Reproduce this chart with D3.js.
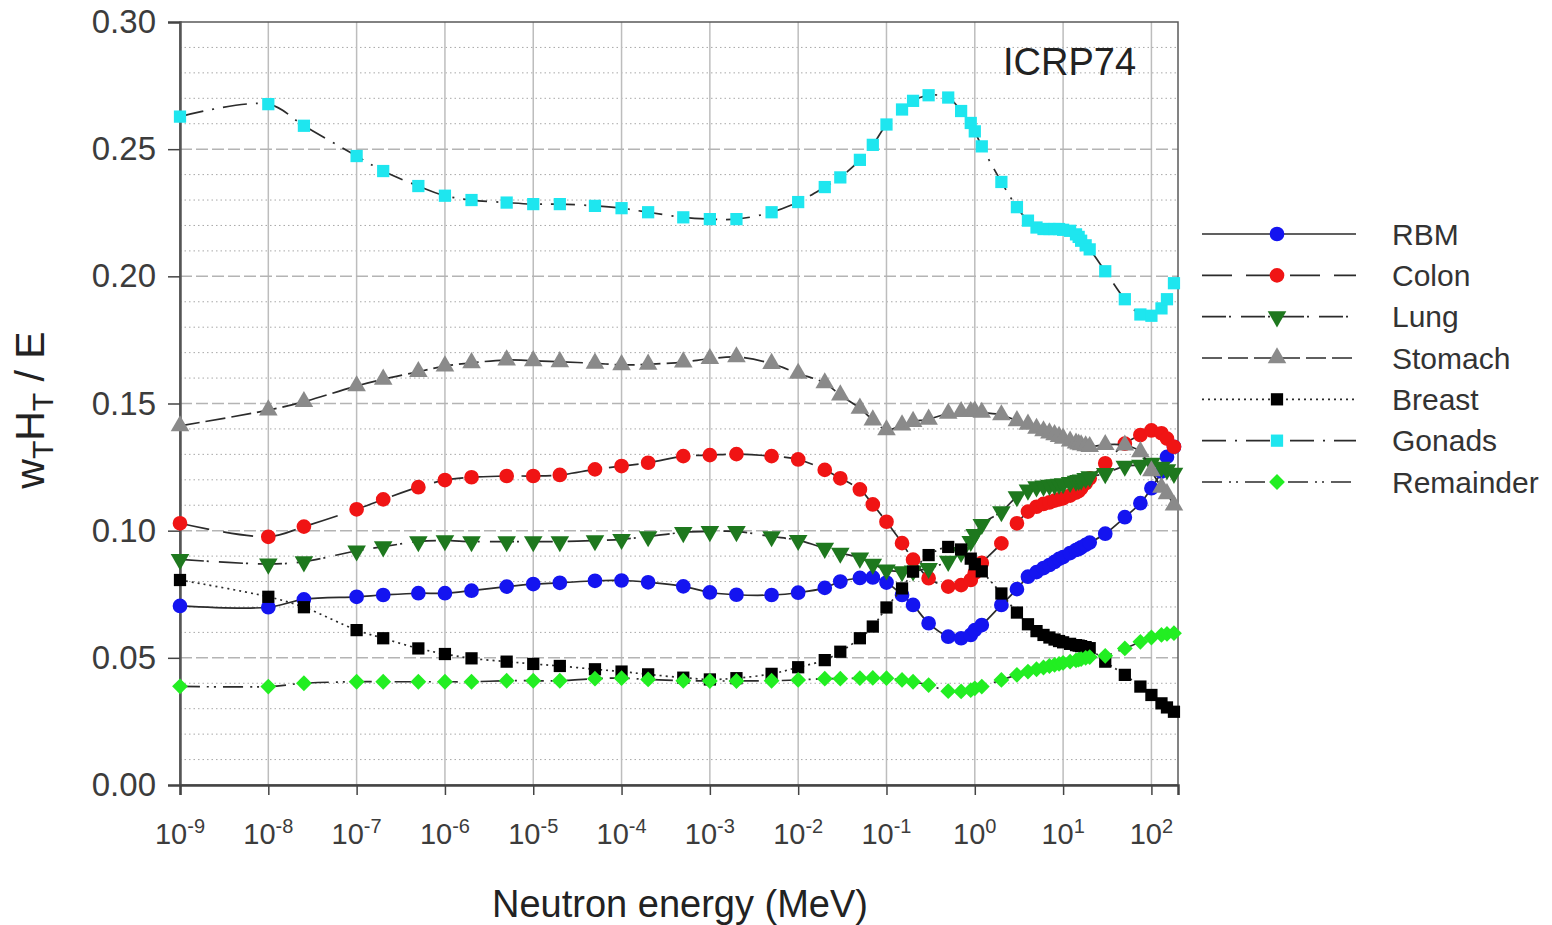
<!DOCTYPE html>
<html>
<head>
<meta charset="utf-8">
<script src="https://cdn.jsdelivr.net/npm/d3@7"></script>
<style>
  body { margin: 0; background: #fff; }
  svg text { font-family: "Liberation Sans", Arial, sans-serif; }
</style>
</head>
<body>
<svg id="chart" width="1552" height="925"></svg>
<script>
// Neutron energies (MeV) of the conversion-coefficient grid
const energies = [1e-9, 1e-8, 2.53e-8, 1e-7, 2e-7, 5e-7, 1e-6, 2e-6, 5e-6, 1e-5, 2e-5, 5e-5,
  1e-4, 2e-4, 5e-4, 1e-3, 2e-3, 5e-3, 1e-2, 2e-2, 3e-2, 5e-2, 7e-2, 0.1, 0.15, 0.2, 0.3, 0.5,
  0.7, 0.9, 1, 1.2, 2, 3, 4, 5, 6, 7, 8, 9, 10, 12, 14, 15, 16, 18, 20, 30, 50, 75, 100, 130, 150, 180];

// w_T H_T / E per organ, one value per energy above
const rbm = [0.0704, 0.0699, 0.0730, 0.0740, 0.0747, 0.0754, 0.0754, 0.0764, 0.0780, 0.0790, 0.0795, 0.0803,
  0.0804, 0.0797, 0.0781, 0.0757, 0.0748, 0.0747, 0.0756, 0.0775, 0.0800, 0.0814, 0.0816, 0.0796, 0.0747, 0.0708, 0.0636, 0.0583,
  0.0577, 0.0590, 0.0609, 0.0629, 0.0708, 0.0770, 0.0819, 0.0837, 0.0853, 0.0865, 0.0877, 0.0889, 0.0896, 0.0912, 0.0924, 0.0928,
  0.0934, 0.0944, 0.0953, 0.0988, 0.1053, 0.1108, 0.1167, 0.1232, 0.1290, 0.1330];

const colon = [0.1029, 0.0976, 0.1016, 0.1084, 0.1123, 0.1171, 0.1199, 0.1210, 0.1215, 0.1215, 0.1219, 0.1241,
  0.1254, 0.1267, 0.1293, 0.1297, 0.1301, 0.1293, 0.1280, 0.1239, 0.1206, 0.1162, 0.1103, 0.1035, 0.0951, 0.0886, 0.0813, 0.0780,
  0.0786, 0.0806, 0.0834, 0.0873, 0.0950, 0.1029, 0.1075, 0.1094, 0.1105, 0.1111, 0.1118, 0.1123, 0.1127, 0.1138, 0.1150, 0.1156,
  0.1167, 0.1186, 0.1206, 0.1265, 0.1342, 0.1376, 0.1394, 0.1383, 0.1362, 0.1330];

const lung = [0.0887, 0.0869, 0.0878, 0.0921, 0.0937, 0.0957, 0.0961, 0.0957, 0.0957, 0.0957, 0.0957, 0.0961,
  0.0966, 0.0977, 0.0993, 0.0997, 0.0997, 0.0977, 0.0962, 0.0931, 0.0912, 0.0893, 0.0868, 0.0846, 0.0839, 0.0842, 0.0852, 0.0880,
  0.0915, 0.0958, 0.0985, 0.1025, 0.1075, 0.1134, 0.1160, 0.1173, 0.1176, 0.1179, 0.1181, 0.1183, 0.1185, 0.1190, 0.1195, 0.1198,
  0.1200, 0.1206, 0.1212, 0.1225, 0.1254, 0.1258, 0.1266, 0.1250, 0.1240, 0.1226];

const stomach = [0.1412, 0.1474, 0.1507, 0.1569, 0.1595, 0.1625, 0.1647, 0.1660, 0.1671, 0.1668, 0.1664, 0.1658,
  0.1652, 0.1654, 0.1663, 0.1676, 0.1683, 0.1657, 0.1618, 0.1581, 0.1533, 0.1481, 0.1435, 0.1396, 0.1415, 0.1429, 0.1438, 0.1461,
  0.1468, 0.1468, 0.1470, 0.1465, 0.1455, 0.1432, 0.1418, 0.1402, 0.1392, 0.1384, 0.1377, 0.1370, 0.1363, 0.1352, 0.1344, 0.1340,
  0.1337, 0.1333, 0.1330, 0.1338, 0.1336, 0.1310, 0.1235, 0.1170, 0.1145, 0.1100];

const breast = [0.0806, 0.0740, 0.0699, 0.0609, 0.0577, 0.0537, 0.0515, 0.0498, 0.0485, 0.0476, 0.0468, 0.0455,
  0.0446, 0.0435, 0.0422, 0.0415, 0.0420, 0.0437, 0.0463, 0.0491, 0.0524, 0.0577, 0.0623, 0.0698, 0.0773, 0.0839, 0.0904, 0.0936,
  0.0926, 0.0890, 0.0868, 0.0840, 0.0753, 0.0678, 0.0632, 0.0605, 0.0590, 0.0580, 0.0572, 0.0566, 0.0561, 0.0555, 0.0550, 0.0548,
  0.0546, 0.0542, 0.0538, 0.0485, 0.0433, 0.0387, 0.0354, 0.0321, 0.0305, 0.0288];

const gonads = [0.2628, 0.2677, 0.2592, 0.2473, 0.2414, 0.2355, 0.2317, 0.2300, 0.2290, 0.2284, 0.2284, 0.2277,
  0.2268, 0.2252, 0.2232, 0.2225, 0.2225, 0.2252, 0.2292, 0.2351, 0.2389, 0.2458, 0.2517, 0.2597, 0.2656, 0.2690, 0.2712, 0.2703,
  0.2650, 0.2603, 0.2570, 0.2511, 0.2371, 0.2272, 0.2219, 0.2192, 0.2186, 0.2186, 0.2186, 0.2186, 0.2183, 0.2179, 0.2165, 0.2155,
  0.2140, 0.2122, 0.2106, 0.2020, 0.1910, 0.1850, 0.1845, 0.1874, 0.1910, 0.1973];

const remainder = [0.0388, 0.0387, 0.0400, 0.0406, 0.0406, 0.0406, 0.0406, 0.0406, 0.0410, 0.0410, 0.0410, 0.0418,
  0.0420, 0.0415, 0.0410, 0.0409, 0.0409, 0.0410, 0.0413, 0.0418, 0.0418, 0.0420, 0.0421, 0.0420, 0.0413, 0.0406, 0.0393, 0.0369,
  0.0368, 0.0373, 0.0380, 0.0387, 0.0413, 0.0433, 0.0446, 0.0455, 0.0462, 0.0468, 0.0472, 0.0476, 0.0480, 0.0485, 0.0490, 0.0493,
  0.0495, 0.0500, 0.0503, 0.0508, 0.0537, 0.0563, 0.0580, 0.0590, 0.0594, 0.0597];

const seriesNames = ["RBM", "Colon", "Lung", "Stomach", "Breast", "Gonads", "Remainder"];
const seriesValues = [rbm, colon, lung, stomach, breast, gonads, remainder];

const yTicks = [0, 0.05, 0.10, 0.15, 0.20, 0.25, 0.30];
const xTickExponents = [-9, -8, -7, -6, -5, -4, -3, -2, -1, 0, 1, 2];

const chartTitle = "ICRP74";
const xTitle = "Neutron energy (MeV)";

// ---- appearance of each series ----
const styles = {
  RBM:       { color: "#1414f0", symbol: "circle",   dash: null },
  Colon:     { color: "#f01414", symbol: "circle",   dash: "30,14" },
  Lung:      { color: "#1e781e", symbol: "triDown",  dash: "24,3,2,10" },
  Stomach:   { color: "#8a8a8a", symbol: "triUp",    dash: "20,6" },
  Breast:    { color: "#000000", symbol: "square",   dash: "2,4" },
  Gonads:    { color: "#1ee6ef", symbol: "square",   dash: "24,9,2,9" },
  Remainder: { color: "#22ee22", symbol: "diamond",  dash: "20,7,2,5,2,7" }
};

const svg = d3.select("#chart");
const plot = { left: 180, right: 1178, top: 22, bottom: 785 };

const x = d3.scaleLog().domain([1e-9, 200]).range([plot.left, plot.right]);
const y = d3.scaleLinear().domain([0, 0.30]).range([plot.bottom, plot.top]);

// ---- grid ----
const grid = svg.append("g");
const allXTicks = x.ticks().filter(v => v <= 200);
const isDecade = v => Math.abs(Math.log10(v) - Math.round(Math.log10(v))) < 1e-9;

grid.selectAll(".vminor").data(allXTicks.filter(v => !isDecade(v))).join("line")
  .attr("x1", d => x(d)).attr("x2", d => x(d))
  .attr("y1", plot.top).attr("y2", plot.bottom)
  .attr("stroke", "#a8a8a8").attr("stroke-width", 1).attr("stroke-dasharray", "1.5,3");

const yMinor = d3.range(1, 30).map(i => i / 100).filter(v => Math.round(v * 100) % 5 !== 0);
grid.selectAll(".hminor").data(yMinor).join("line")
  .attr("x1", plot.left).attr("x2", plot.right)
  .attr("y1", d => y(d)).attr("y2", d => y(d))
  .attr("stroke", "#a8a8a8").attr("stroke-width", 1).attr("stroke-dasharray", "1.5,3");

grid.selectAll(".vmajor").data(allXTicks.filter(isDecade)).join("line")
  .attr("x1", d => x(d)).attr("x2", d => x(d))
  .attr("y1", plot.top).attr("y2", plot.bottom)
  .attr("stroke", "#bdbdbd").attr("stroke-width", 1.5);

grid.selectAll(".hmajor").data(yTicks.slice(1, -1)).join("line")
  .attr("x1", plot.left).attr("x2", plot.right)
  .attr("y1", d => y(d)).attr("y2", d => y(d))
  .attr("stroke", "#b4b4b4").attr("stroke-width", 1.5).attr("stroke-dasharray", "12,4");

// ---- frame ----
svg.append("rect")
  .attr("x", plot.left).attr("y", plot.top)
  .attr("width", plot.right - plot.left).attr("height", plot.bottom - plot.top)
  .attr("fill", "none").attr("stroke", "#5a5a5a").attr("stroke-width", 1.5);

// ---- axes ----
const yAxis = svg.append("g")
  .attr("transform", `translate(${plot.left},0)`)
  .call(d3.axisLeft(y).tickValues(yTicks).tickFormat(d3.format(".2f")).tickSize(12).tickPadding(12));
yAxis.select(".domain").attr("stroke", "#555").attr("stroke-width", 2.5);
yAxis.selectAll(".tick line").attr("stroke", "#444").attr("stroke-width", 1.5);
yAxis.selectAll(".tick text").attr("font-size", 33).attr("fill", "#3c3c3c")
  .attr("font-family", "'Liberation Sans', Arial, sans-serif");

const xAxis = svg.append("g")
  .attr("transform", `translate(0,${plot.bottom})`)
  .call(d3.axisBottom(x).tickValues(xTickExponents.map(e => Math.pow(10, e))).tickFormat("").tickSize(10));
xAxis.select(".domain").attr("stroke", "#444").attr("stroke-width", 2.5);
xAxis.selectAll(".tick line").attr("stroke", "#444").attr("stroke-width", 1.5);

// decade labels with superscript exponents
const xLabels = svg.append("g");
xTickExponents.forEach(e => {
  const t = xLabels.append("text")
    .attr("x", x(Math.pow(10, e))).attr("y", 844)
    .attr("text-anchor", "middle").attr("fill", "#3c3c3c").attr("font-size", 29);
  t.append("tspan").text("10");
  t.append("tspan").attr("dy", -11).attr("font-size", 20).text(String(e));
});

// axis titles
svg.append("text")
  .attr("x", 680).attr("y", 917).attr("text-anchor", "middle")
  .attr("font-size", 38).attr("fill", "#222").text(xTitle);

const yt = svg.append("text")
  .attr("transform", "translate(44,410) rotate(-90)")
  .attr("text-anchor", "middle").attr("font-size", 41).attr("fill", "#222");
yt.append("tspan").text("w");
yt.append("tspan").attr("font-size", 30).attr("dy", 9).text("T");
yt.append("tspan").attr("dy", -9).text("H");
yt.append("tspan").attr("font-size", 30).attr("dy", 9).text("T");
yt.append("tspan").attr("dy", -9).text(" / E");

svg.append("text")
  .attr("x", 1003).attr("y", 75)
  .attr("font-size", 38).attr("fill", "#222").text(chartTitle);

// ---- markers ----
function markerPath(kind) {
  switch (kind) {
    case "circle":  return d3.symbol().type(d3.symbolCircle).size(170)();
    case "square":  return d3.symbol().type(d3.symbolSquare).size(150)();
    case "triUp":   return d3.symbol().type(d3.symbolTriangle).size(150)();
    case "triDown": return d3.symbol().type(d3.symbolTriangle).size(150)();
    case "diamond": return d3.symbol().type(d3.symbolSquare).size(125)();
  }
}
function markerRotation(kind) {
  if (kind === "triDown") return 180;
  if (kind === "diamond") return 45;
  return 0;
}

const line = d3.line()
  .x(d => x(d[0])).y(d => y(d[1]))
  .curve(d3.curveCatmullRom.alpha(0.5));

const seriesLayer = svg.append("g");
seriesNames.forEach((name, i) => {
  const st = styles[name];
  const pts = energies.map((e, j) => [e, seriesValues[i][j]]);
  const g = seriesLayer.append("g");
  g.append("path")
    .attr("d", line(pts))
    .attr("fill", "none").attr("stroke", "#2b2b2b").attr("stroke-width", 1.7)
    .attr("stroke-dasharray", st.dash);
  g.selectAll("path.mk").data(pts).join("path").attr("class", "mk")
    .attr("d", markerPath(st.symbol))
    .attr("transform", d => `translate(${x(d[0])},${y(d[1])}) rotate(${markerRotation(st.symbol)})`)
    .attr("fill", st.color);
});

// ---- legend ----
const legend = svg.append("g");
const legendY = d3.scalePoint().domain(seriesNames).range([234, 482]);
seriesNames.forEach(name => {
  const st = styles[name];
  const ly = legendY(name);
  legend.append("line")
    .attr("x1", 1202).attr("x2", 1356).attr("y1", ly).attr("y2", ly)
    .attr("stroke", "#2b2b2b").attr("stroke-width", 1.7)
    .attr("stroke-dasharray", st.dash);
  legend.append("path")
    .attr("d", markerPath(st.symbol))
    .attr("transform", `translate(1277,${ly}) rotate(${markerRotation(st.symbol)})`)
    .attr("fill", st.color);
  legend.append("text")
    .attr("x", 1392).attr("y", ly).attr("dy", "0.36em")
    .attr("font-size", 30).attr("fill", "#333").text(name);
});
</script>
</body>
</html>
